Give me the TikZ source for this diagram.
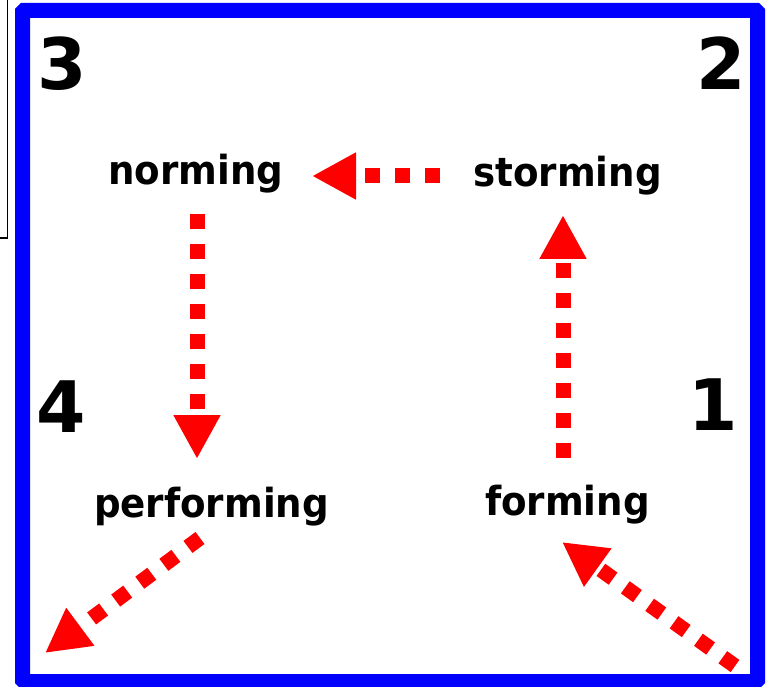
\documentclass[tikz,border=0pt]{standalone}
\usepackage{fontspec}
\setmainfont{DejaVu Sans}[FakeStretch=0.93]
\newfontfamily\numfont{DejaVu Sans}
\usetikzlibrary{arrows.meta}
\tikzset{
  lbl/.style={font=\fontsize{40}{44}\selectfont\bfseries, anchor=base, inner sep=0pt},
  num/.style={font=\numfont\fontsize{71}{75}\selectfont\bfseries, anchor=base, inner sep=0pt},
  flow/.style={draw=red, line width=15pt, dash pattern=on 15pt off 15pt, line cap=butt,
    -{Triangle[length=44pt,width=44pt]}},
  frame/.style={draw=blue, line width=15pt, rounded corners=1.5pt}
}
\begin{document}
\begin{tikzpicture}[x=1pt,y=-1pt]
\useasboundingbox (0,0) rectangle (769,687);
\fill[white] (0,0) rectangle (769,687);
% thin black box at top left
\draw[black, line width=1.3pt] (0,238) -- (7.5,238) -- (7.5,0);
% blue frame
\draw[frame] (22.5,10.5) rectangle (757.5,681.5);
% numbers
\node[num] (n3) at (62,90) {3};
\node[num] (n2) at (721,90) {2};
\node[num] (n4) at (61,432) {4};
\node[num] (n1) at (713,430) {1};
% labels
\node[lbl] (norming) at (196,185) {norming};
\node[lbl] (storming) at (567.5,187) {storming};
\node[lbl] (performing) at (211.5,517) {performing};
\node[lbl] (forming) at (567.5,515) {forming};
% arrow end points
\coordinate (fs) at (563,458);
\coordinate (ft) at (563,215);
\coordinate (ss) at (440,176);
\coordinate (st) at (312,176);
\coordinate (ns) at (197,214);
\coordinate (nt) at (197,459);
\coordinate (ps) at (200,538);
\coordinate (pt) at (45,653);
\coordinate (is) at (735,666);
\coordinate (it) at (562,542);
% arrows
\draw[flow] (is) -- (it);
\draw[flow] (fs) -- (ft);
\draw[flow] (ss) -- (st);
\draw[flow] (ns) -- (nt);
\draw[flow] (ps) -- (pt);
\end{tikzpicture}
\end{document}
